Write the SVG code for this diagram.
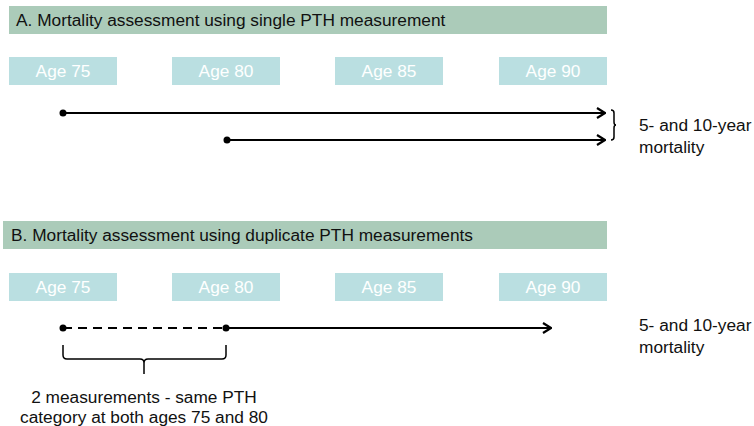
<svg xmlns="http://www.w3.org/2000/svg" width="754" height="426" viewBox="0 0 754 426">
<style>
.hdr{fill:#abcbb9}
.hdrt{font-family:"Liberation Sans",Arial,sans-serif;font-size:17.3px;fill:#111}
.age{fill:#badfe1}
.aget{font-family:"Liberation Sans",Arial,sans-serif;font-size:17.3px;fill:#ffffff;text-anchor:middle}
.lbl{font-family:"Liberation Sans",Arial,sans-serif;font-size:17.3px;fill:#111}
.ln{stroke:#000;stroke-width:2;fill:none}
.br{stroke:#000;stroke-width:1.5;fill:none}
</style>
<defs>
<marker id="arr" viewBox="0 0 10 12" refX="9" refY="6" markerWidth="10" markerHeight="12" markerUnits="userSpaceOnUse" orient="auto">
<path d="M1,1 L9,6 L1,11" fill="none" stroke="#000" stroke-width="2.2"/>
</marker>
</defs>
<g id="headerA"><rect class="hdr" x="9" y="6" width="598" height="28"/><text class="hdrt" x="16" y="26">A. Mortality assessment using single PTH measurement</text></g>
<g id="a75"><rect class="age" x="9" y="57" width="108" height="28"/><text class="aget" x="63" y="77">Age 75</text></g>
<g id="a80"><rect class="age" x="172" y="57" width="108" height="28"/><text class="aget" x="226" y="77">Age 80</text></g>
<g id="a85"><rect class="age" x="335" y="57" width="108" height="28"/><text class="aget" x="389" y="77">Age 85</text></g>
<g id="a90"><rect class="age" x="499" y="57" width="108" height="28"/><text class="aget" x="553" y="77">Age 90</text></g>
<g id="mortA"><text class="lbl" x="639" y="131">5- and 10-year</text><text class="lbl" x="639" y="153">mortality</text></g>
<g id="headerB"><rect class="hdr" x="3" y="221" width="604" height="28"/><text class="hdrt" x="11" y="241">B. Mortality assessment using duplicate PTH measurements</text></g>
<g id="b75"><rect class="age" x="9" y="273" width="108" height="28"/><text class="aget" x="63" y="293">Age 75</text></g>
<g id="b80"><rect class="age" x="172" y="273" width="108" height="28"/><text class="aget" x="226" y="293">Age 80</text></g>
<g id="b85"><rect class="age" x="335" y="273" width="108" height="28"/><text class="aget" x="389" y="293">Age 85</text></g>
<g id="b90"><rect class="age" x="499" y="273" width="108" height="28"/><text class="aget" x="553" y="293">Age 90</text></g>
<g id="mortB"><text class="lbl" x="639" y="331">5- and 10-year</text><text class="lbl" x="639" y="353">mortality</text></g>
<g id="measNote"><text class="lbl" x="144" y="403" text-anchor="middle">2 measurements - same PTH</text><text class="lbl" x="144" y="423" text-anchor="middle">category at both ages 75 and 80</text></g>
<g id="connectors">
<line class="ln" x1="63" y1="113" x2="605" y2="113" marker-end="url(#arr)"/>
<circle cx="63" cy="113" r="3.5"/>
<line class="ln" x1="227" y1="140" x2="605" y2="140" marker-end="url(#arr)"/>
<circle cx="227" cy="140" r="3.5"/>
<path class="br" d="M611,110 Q614,110 614,113 L614,122 Q614,125 616,125 Q614,125 614,128 L614,137 Q614,140 611,140"/>
<line class="ln" x1="63" y1="328" x2="226" y2="328" stroke-dasharray="9,6"/>
<line class="ln" x1="226" y1="328" x2="551" y2="328" marker-end="url(#arr)"/>
<circle cx="63" cy="328" r="3.5"/>
<circle cx="226" cy="328" r="3.5"/>
<path class="br" d="M63,345 L63,355 Q63,359 67,359 L140,359 Q144,359 144,363 L144,374 M144,363 Q144,359 148,359 L222,359 Q226,359 226,355 L226,345"/>
</g>
</svg>
